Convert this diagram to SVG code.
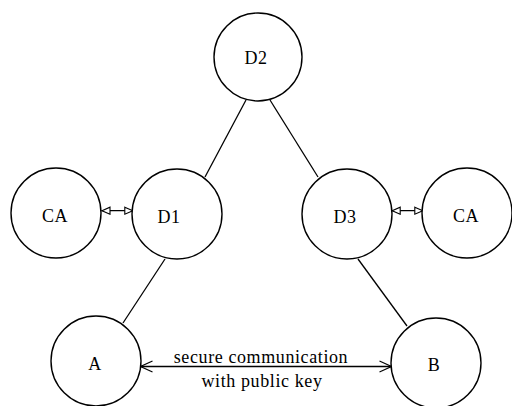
<svg xmlns="http://www.w3.org/2000/svg" width="512" height="406" viewBox="0 0 512 406">
<style>
.node circle{fill:#fff;stroke:#000;stroke-width:1.4}
.node text,.lbl{font-family:"Liberation Serif","Times New Roman",serif;font-size:18px;fill:#000;text-anchor:middle;letter-spacing:0.6px}
.edge{stroke:#000;stroke-width:1.3;fill:none}
</style>
<defs>
<marker id="tri" viewBox="0 0 9 8" refX="9" refY="4" markerWidth="9" markerHeight="8" markerUnits="userSpaceOnUse" orient="auto-start-reverse" overflow="visible">
<path d="M0.5,0.5 L8.5,4 L0.5,7.5 Z" fill="#fff" stroke="#000" stroke-width="1.1"/>
</marker>
<marker id="vee" viewBox="0 0 12 12" refX="12" refY="6" markerWidth="12" markerHeight="12" markerUnits="userSpaceOnUse" orient="auto-start-reverse" overflow="visible">
<path d="M0,0.5 L12,6 L0,11.5" fill="none" stroke="#000" stroke-width="1.2"/>
</marker>
</defs>
<g id="connectors">
<line class="edge" x1="246" y1="100" x2="205" y2="177"/>
<line class="edge" x1="165" y1="259" x2="123" y2="323"/>
<line class="edge" x1="270" y1="100" x2="318" y2="177"/>
<line class="edge" x1="358" y1="259" x2="407" y2="326"/>
<line class="edge" x1="101.5" y1="210.7" x2="133.3" y2="210.7" marker-start="url(#tri)" marker-end="url(#tri)"/>
<line class="edge" x1="391.7" y1="210.7" x2="423.3" y2="210.7" marker-start="url(#tri)" marker-end="url(#tri)"/>
<line class="edge" x1="140.5" y1="366.5" x2="391.5" y2="366.5" marker-start="url(#vee)" marker-end="url(#vee)"/>
<text class="lbl" x="261" y="363">secure communication</text>
<text class="lbl" x="262" y="387">with public key</text>
</g>
<g id="D2" class="node"><circle cx="258" cy="57" r="44"/><text x="256" y="64">D2</text></g>
<g id="CA1" class="node"><circle cx="56" cy="213" r="45"/><text x="55" y="222">CA</text></g>
<g id="D1" class="node"><circle cx="177" cy="214" r="45"/><text x="169" y="223">D1</text></g>
<g id="D3" class="node"><circle cx="347" cy="214" r="45"/><text x="345" y="223">D3</text></g>
<g id="CA2" class="node"><circle cx="467" cy="213" r="45"/><text x="466" y="222">CA</text></g>
<g id="A" class="node"><circle cx="96" cy="361" r="45"/><text x="95" y="370">A</text></g>
<g id="B" class="node"><circle cx="436" cy="363" r="45"/><text x="434" y="371">B</text></g>
</svg>
